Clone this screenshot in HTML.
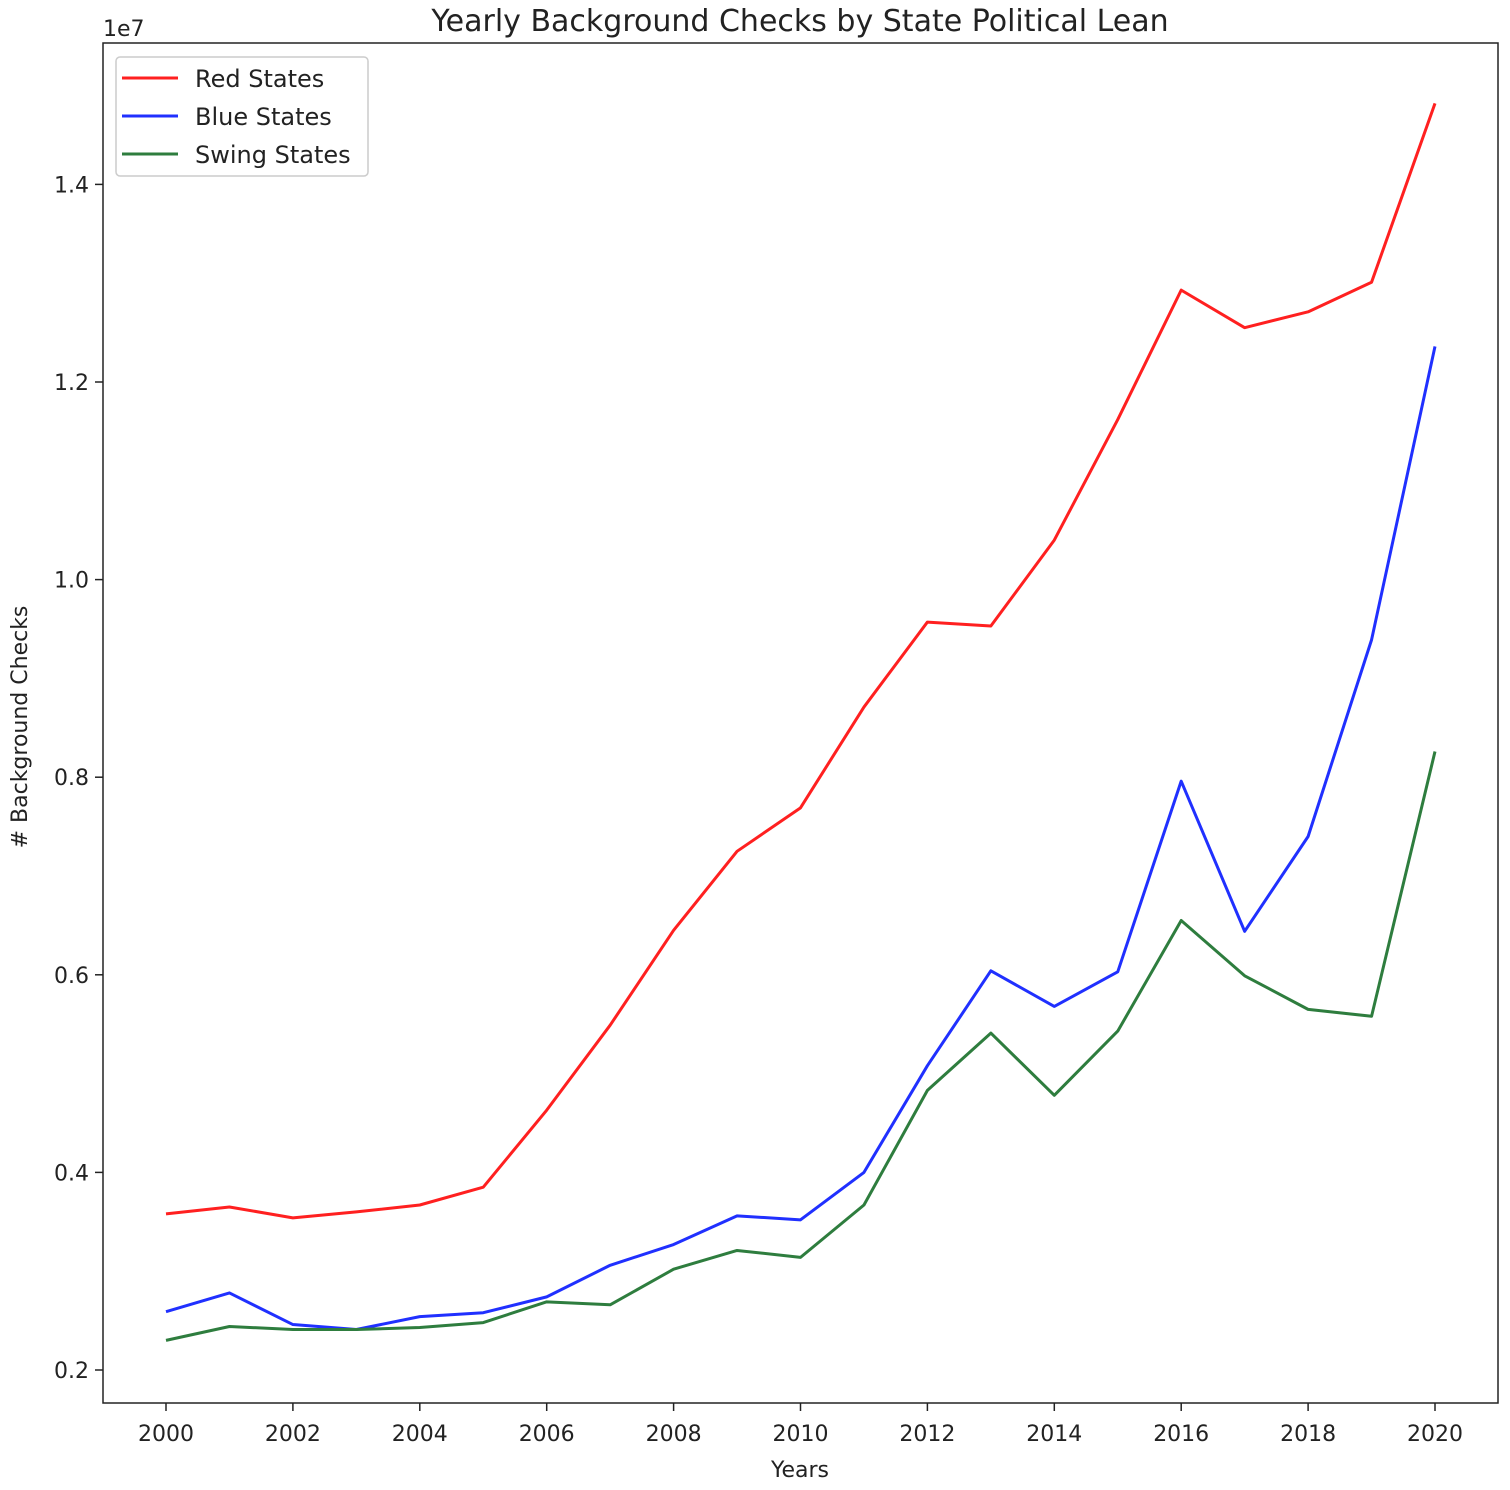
<!DOCTYPE html>
<html><head><meta charset="utf-8"><style>
html,body{margin:0;padding:0;background:#fff;}
svg{display:block;font-family:"DejaVu Sans","Liberation Sans",sans-serif;}
</style></head><body>
<svg id="chart" width="1510" height="1490"></svg>
<script>
const years=[2000,2001,2002,2003,2004,2005,2006,2007,2008,2009,2010,2011,2012,2013,2014,2015,2016,2017,2018,2019,2020];
const redStates=[0.358,0.365,0.354,0.360,0.367,0.385,0.463,0.549,0.645,0.725,0.769,0.871,0.957,0.953,1.040,1.162,1.293,1.255,1.271,1.301,1.482];
const blueStates=[0.259,0.278,0.246,0.241,0.254,0.258,0.274,0.306,0.327,0.356,0.352,0.400,0.508,0.604,0.568,0.603,0.796,0.644,0.740,0.939,1.236];
const swingStates=[0.230,0.244,0.241,0.241,0.243,0.248,0.269,0.266,0.302,0.321,0.314,0.367,0.483,0.541,0.478,0.543,0.655,0.599,0.565,0.558,0.826];
const xTicks=[2000,2002,2004,2006,2008,2010,2012,2014,2016,2018,2020];
const yTicks=[0.2,0.4,0.6,0.8,1.0,1.2,1.4];

const NS="http://www.w3.org/2000/svg";
const svg=document.getElementById('chart');
const L=103,R=1498,T=43,B=1403;
const xs=y=>166+(y-2000)*(1435-166)/20;
const ys=v=>1370-(v-0.2)*988;
function mk(tag,attrs,parent){const e=document.createElementNS(NS,tag);for(const k in attrs)e.setAttribute(k,attrs[k]);(parent||svg).appendChild(e);return e;}

const title=mk('text',{x:800,y:31,'text-anchor':'middle','font-size':30,fill:'#222'});
title.textContent='Yearly Background Checks by State Political Lean';



const series=[[redStates,'#ff2020','red-states-line'],[blueStates,'#2030ff','blue-states-line'],[swingStates,'#2e7d3e','swing-states-line']];
series.forEach(([d,c,n])=>{
  const p=mk('polyline',{points:d.map((v,i)=>xs(years[i])+','+ys(v)).join(' '),fill:'none',stroke:c,'stroke-width':3,'stroke-linejoin':'round'});
  
  
});

const frame=mk('rect',{x:L,y:T,width:R-L,height:B-T,fill:'none',stroke:'#222','stroke-width':1.5});



xTicks.forEach(t=>{
  mk('line',{x1:xs(t),x2:xs(t),y1:B,y2:B+8,stroke:'#222','stroke-width':1.5});
  const tx=mk('text',{x:xs(t),y:B+38,'text-anchor':'middle','font-size':22,fill:'#222'});
  tx.textContent=t;
  
  
});
yTicks.forEach(t=>{
  mk('line',{x1:L-8,x2:L,y1:ys(t),y2:ys(t),stroke:'#222','stroke-width':1.5});
  const tx=mk('text',{x:L-14,y:ys(t)+8,'text-anchor':'end','font-size':22,fill:'#222'});
  tx.textContent=t.toFixed(1);
  
  
});
const off=mk('text',{x:103,y:36,'font-size':22,fill:'#222'});
off.textContent='1e7';



const xl=mk('text',{x:800,y:1477,'text-anchor':'middle','font-size':22,fill:'#222'});
xl.textContent='Years';


const yl=mk('text',{x:0,y:0,'text-anchor':'middle','font-size':22,fill:'#222',transform:'translate(27,727) rotate(-90)'});
yl.textContent='# Background Checks';



const lg=mk('g',{});


mk('rect',{x:116,y:57,width:252,height:119,rx:4,fill:'#fff',stroke:'#ccc','stroke-width':1.5},lg);
const labels=['Red States','Blue States','Swing States'];
series.forEach(([d,c,n],i)=>{
  const y=78+i*38;
  mk('line',{x1:122,x2:178,y1:y,y2:y,stroke:c,'stroke-width':3},lg);
  const t=mk('text',{x:195,y:y+9,'font-size':24,fill:'#222'},lg);
  t.textContent=labels[i];
  
  
});
</script>
</body></html>
